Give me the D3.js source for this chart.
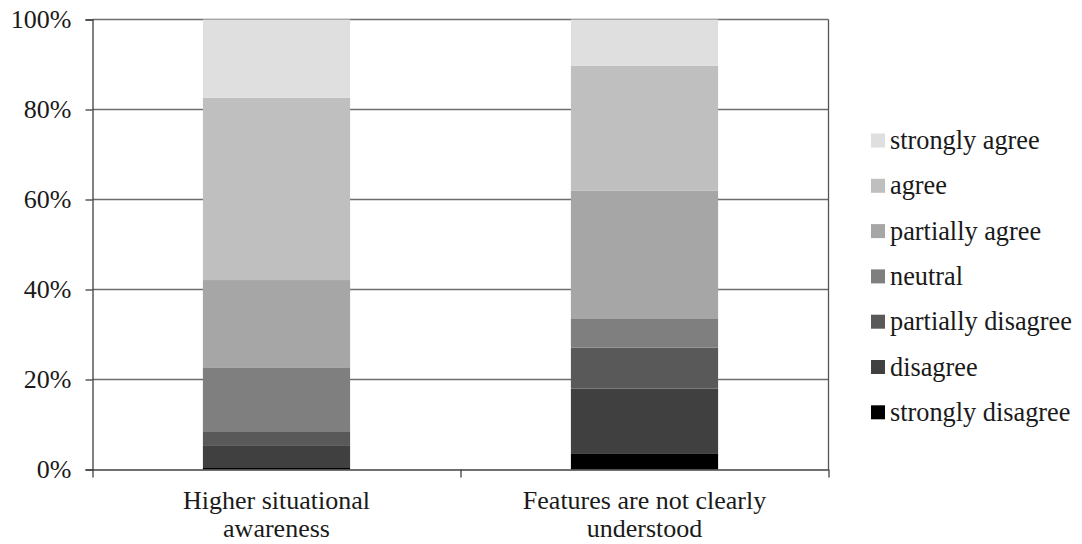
<!DOCTYPE html>
<html><head><meta charset="utf-8">
<script src="https://cdn.jsdelivr.net/npm/d3@7"></script>
<style>body{margin:0;background:#fff}svg{display:block}</style>
</head><body><svg id="c" width="1082" height="544" font-family="'Liberation Serif', 'Times New Roman', serif"></svg>
<script>
const categories = [["Higher situational","awareness"],["Features are not clearly","understood"]];
const seriesNames = ["strongly disagree","disagree","partially disagree","neutral","partially agree","agree","strongly agree"];
const seriesColors = ["#000000","#404040","#595959","#7f7f7f","#a6a6a6","#bfbfbf","#dfdfdf"];
const stronglyDisagree = [0.5, 3.6];
const disagree = [4.9, 14.4];
const partiallyDisagree = [3.1, 9.1];
const neutral = [14.2, 6.5];
const partiallyAgree = [19.4, 28.4];
const agree = [40.5, 27.7];
const stronglyAgree = [17.4, 10.3];
const yTicks = [0,20,40,60,80,100];

const FONT = "'Liberation Serif', 'Times New Roman', serif";
const seriesValues = [stronglyDisagree, disagree, partiallyDisagree, neutral, partiallyAgree, agree, stronglyAgree];
const rows = categories.map((c,i)=>{const r={key:i}; seriesNames.forEach((s,j)=>r[s]=seriesValues[j][i]); return r;});
const stacked = d3.stack().keys(seriesNames)(rows);

const svg = d3.select("#c");
const L=92.5, R=828.5, T=19.5, B=469.5;
const x = d3.scaleBand().domain(d3.range(categories.length)).range([L,R]).paddingInner(0).paddingOuter(0);
const y = d3.scaleLinear().domain([0,100]).range([B,T]);
const bw = x.bandwidth()*0.4;

svg.append("g").selectAll("line").data(yTicks.filter(t=>t>0)).join("line")
  .attr("x1",L).attr("x2",R).attr("y1",d=>y(d)).attr("y2",d=>y(d))
  .attr("stroke","#6e6e6e").attr("stroke-width",1.3);
svg.append("line").attr("x1",R).attr("x2",R).attr("y1",T).attr("y2",B).attr("stroke","#555").attr("stroke-width",1.3);

svg.append("g").selectAll("g").data(stacked).join("g").attr("fill",(d,i)=>seriesColors[i])
  .selectAll("rect").data(d=>d).join("rect")
  .attr("x",(d,i)=>x(i)+x.bandwidth()/2-bw/2).attr("width",bw)
  .attr("y",d=>y(d[1])).attr("height",d=>y(d[0])-y(d[1]));

const ya = svg.append("g").attr("transform",`translate(${L},0)`)
  .call(d3.axisLeft(y).tickValues(yTicks).tickFormat(d=>d+"%").tickSize(7).tickPadding(14));
ya.attr("font-family",FONT);
ya.select(".domain").attr("stroke","#404040").attr("stroke-width",1.3);
ya.selectAll(".tick line").attr("stroke","#404040").attr("stroke-width",1.3);
ya.selectAll(".tick text").attr("font-size",26).attr("font-family",FONT).attr("fill","#1a1a1a");

const xs = d3.scaleLinear().domain([0,categories.length]).range([L,R]);
const xa = svg.append("g").attr("transform",`translate(0,${B})`)
  .call(d3.axisBottom(xs).tickValues(d3.range(categories.length+1)).tickFormat("").tickSize(8).tickSizeOuter(0));
xa.select(".domain").attr("stroke","#404040").attr("stroke-width",1.3);
xa.selectAll(".tick line").attr("stroke","#404040").attr("stroke-width",1.3);

const cl = svg.append("g").attr("font-family",FONT).selectAll("text").data(categories).join("text")
  .attr("x",(d,i)=>x(i)+x.bandwidth()/2).attr("y",509).attr("text-anchor","middle")
  .attr("font-size",26).attr("font-family",FONT).attr("fill","#1a1a1a");
cl.selectAll("tspan").data(d=>d).join("tspan").attr("x",function(){return this.parentNode.getAttribute("x");})
  .attr("dy",(d,i)=>i?28:0).text(d=>d);

const legOrder = seriesNames.slice().reverse();
const lg = svg.append("g").attr("font-family",FONT).selectAll("g").data(legOrder).join("g")
  .attr("transform",(d,i)=>`translate(871,${133.5+i*45.3})`);
lg.append("rect").attr("width",14).attr("height",14).attr("fill",d=>seriesColors[seriesNames.indexOf(d)]);
lg.append("text").attr("x",19).attr("y",15.5).attr("font-size",26.3).attr("font-family",FONT).attr("fill","#1a1a1a").text(d=>d);
</script></body></html>
